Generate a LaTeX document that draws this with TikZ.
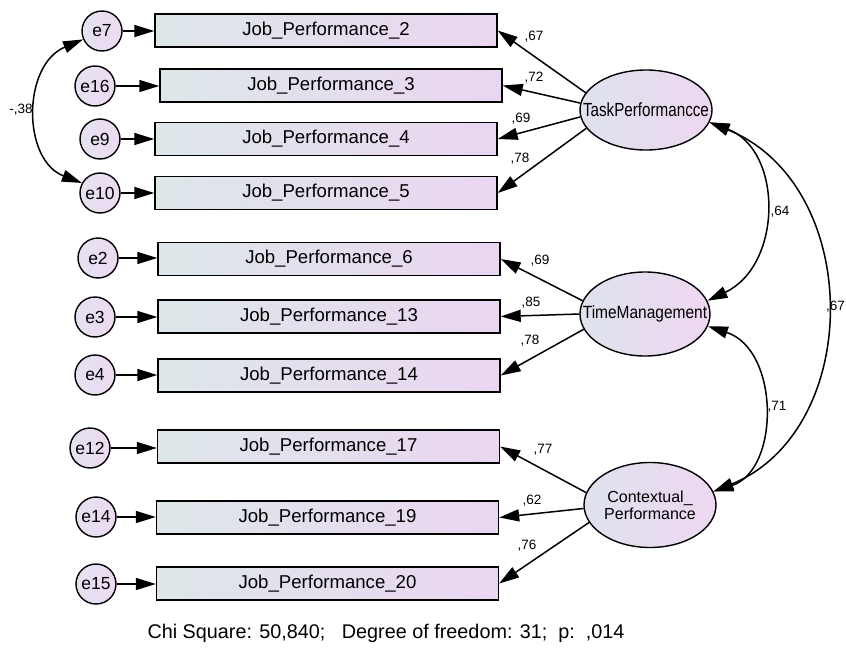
\documentclass[tikz,border=0pt]{standalone}
\usepackage{fontspec}
\usepackage{graphicx}
\setmainfont{Liberation Sans}
\usetikzlibrary{shapes.geometric,arrows.meta}
\definecolor{boxl}{RGB}{221,231,233}
\definecolor{boxr}{RGB}{234,214,241}
\definecolor{errl}{RGB}{228,226,240}
\definecolor{errr}{RGB}{238,218,242}
\definecolor{latl}{RGB}{222,226,237}
\definecolor{latr}{RGB}{238,215,241}
\begin{document}
\begin{tikzpicture}[x=1pt,y=-1pt,
  obs/.style={draw, line width=1.4pt, left color=boxl, right color=boxr,
    minimum width=342pt, minimum height=33pt, inner sep=0pt,
    font=\fontsize{18.6}{20}\selectfont},
  err/.style={circle, draw, line width=1.4pt, left color=errl, right color=errr,
    minimum size=40pt, inner sep=0pt, font=\fontsize{17.5}{19}\selectfont},
  lat/.style={ellipse, draw, line width=1.4pt, left color=latl, right color=latr,
    inner sep=0pt},
  latname/.style={inner sep=0pt, align=center},
  arr/.style={-{Triangle[length=20pt,width=12pt]}, line width=1.5pt},
  cov/.style={{Triangle[length=20pt,width=12pt]}-{Triangle[length=20pt,width=12pt]}, line width=1.5pt},
  lbl/.style={font=\fontsize{13.5}{15}\selectfont, inner sep=0pt}
]
\useasboundingbox (0,0) rectangle (846,661);
\fill[white] (0,0) rectangle (846,661);

% observed variables
\node[obs] (r1) at (326,30.5) {Job\_Performance\_2};
\node[obs] (r2) at (331,85.5) {Job\_Performance\_3};
\node[obs] (r3) at (326,139) {Job\_Performance\_4};
\node[obs] (r4) at (326,193) {Job\_Performance\_5};
\node[obs] (r5) at (329,259) {Job\_Performance\_6};
\node[obs] (r6) at (329,316.5) {Job\_Performance\_13};
\node[obs] (r7) at (329,375.5) {Job\_Performance\_14};
\node[obs] (r8) at (328.5,446.5) {Job\_Performance\_17};
\node[obs] (r9) at (327.5,517.5) {Job\_Performance\_19};
\node[obs] (r10) at (327.5,583.5) {Job\_Performance\_20};

% error terms
\node[err] (e7) at (102,31) {e7};
\node[err] (e16) at (95,86) {e16};
\node[err] (e9) at (100,139) {e9};
\node[err] (e10) at (100,193) {e10};
\node[err] (e2) at (98,258) {e2};
\node[err] (e3) at (95,317) {e3};
\node[err] (e4) at (95,375) {e4};
\node[err] (e12) at (90,448) {e12};
\node[err] (e14) at (96,517) {e14};
\node[err] (e15) at (96,584) {e15};

\draw[arr] (e7) -- (e7 -| r1.west);
\draw[arr] (e16) -- (e16 -| r2.west);
\draw[arr] (e9) -- (e9 -| r3.west);
\draw[arr] (e10) -- (e10 -| r4.west);
\draw[arr] (e2) -- (e2 -| r5.west);
\draw[arr] (e3) -- (e3 -| r6.west);
\draw[arr] (e4) -- (e4 -| r7.west);
\draw[arr] (e12) -- (e12 -| r8.west);
\draw[arr] (e14) -- (e14 -| r9.west);
\draw[arr] (e15) -- (e15 -| r10.west);

% latent variables
\node[lat, minimum width=132pt, minimum height=80pt] (tp) at (646,110) {};
\node[latname] (tpt) at (tp) {\scalebox{0.8}[1]{\fontsize{19}{21}\selectfont TaskPerformancce}};
\node[lat, minimum width=130pt, minimum height=84pt] (tm) at (645,314) {};
\node[latname] (tmt) at (tm) {\scalebox{0.875}[1]{\fontsize{17.7}{20}\selectfont TimeManagement}};
\node[lat, minimum width=132pt, minimum height=85pt] (cp) at (650,505) {};
\node[latname, font=\fontsize{16}{17}\selectfont] (cpt) at (cp) {Contextual\_\\Performance};

% loadings
\draw[arr] (tp.164) -- (r1.east);
\draw[arr] (tp.174) -- (r2.east);
\draw[arr] (tp.186) -- (r3.east);
\draw[arr] (tp.197) -- (r4.east);
\draw[arr] (tm.168) -- (r5.east);
\draw[arr] (tm.180) -- (r6.east);
\draw[arr] (tm.194) -- (r7.east);
\draw[arr] (cp.169) -- (r8.east);
\draw[arr] (cp.183) -- (r9.east);
\draw[arr] (cp.196) -- (r10.east);

\node[lbl] (l1) at (534,37) {,67};
\node[lbl] (l2) at (534,78) {,72};
\node[lbl] (l3) at (521,119) {,69};
\node[lbl] (l4) at (520,159) {,78};
\node[lbl] (l5) at (540,261) {,69};
\node[lbl] (l6) at (531,303) {,85};
\node[lbl] (l7) at (530,341) {,78};
\node[lbl] (l8) at (543,450) {,77};
\node[lbl] (l9) at (532,501) {,62};
\node[lbl] (l10) at (527,546) {,76};

% covariances
\draw[cov] (tp.-11) .. controls (783,150) and (783,265) .. (tm.12);
\draw[cov] (tp.-11) .. controls (864,185) and (864,430) .. (cp.12);
\draw[cov] (tm.-11) .. controls (780,350) and (780,470) .. (cp.12);
\draw[cov] (e7.204) .. controls (22,65) and (22,160) .. (e10.151);

\node[lbl] (c1) at (780,212) {,64};
\node[lbl, anchor=west] (c2) at (826,307) {,67};
\node[lbl] (c3) at (777,407) {,71};
\node[lbl] (c4) at (21,110) {-,38};

\node[font=\fontsize{19.8}{22}\selectfont, inner sep=0pt] (chi) at (386,633)
  {Chi Square: 50,840;~~~Degree of freedom: 31;~~p:~~,014};
\end{tikzpicture}
\end{document}
